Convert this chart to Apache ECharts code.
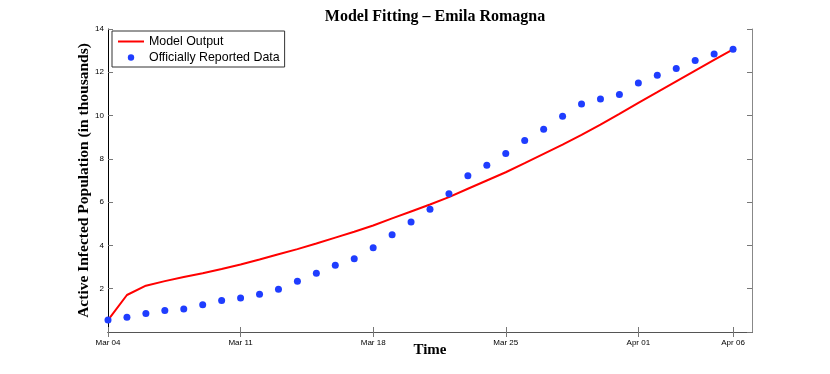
<!DOCTYPE html>
<html>
<head>
<meta charset="utf-8">
<script src="https://cdn.jsdelivr.net/npm/echarts@6/dist/echarts.min.js"></script>
<style>html,body{margin:0;padding:0;background:#fff}#c{width:830px;height:374px}</style>
</head>
<body>
<div id="c"></div>
<script>
const categories = ["Mar 04","Mar 05","Mar 06","Mar 07","Mar 08","Mar 09","Mar 10","Mar 11","Mar 12","Mar 13","Mar 14","Mar 15","Mar 16","Mar 17","Mar 18","Mar 19","Mar 20","Mar 21","Mar 22","Mar 23","Mar 24","Mar 25","Mar 26","Mar 27","Mar 28","Mar 29","Mar 30","Mar 31","Apr 01","Apr 02","Apr 03","Apr 04","Apr 05","Apr 06","Apr 07"];
const tickLabels = ["Mar 04","Mar 11","Mar 18","Mar 25","Apr 01","Apr 06"];
const reportedData = [0.55,0.68,0.85,0.99,1.06,1.26,1.46,1.57,1.74,1.98,2.34,2.71,3.08,3.39,3.89,4.49,5.08,5.67,6.39,7.22,7.71,8.25,8.85,9.37,9.97,10.54,10.77,10.97,11.51,11.86,12.18,12.54,12.85,13.06];
const modelOutput = [0.55,1.71,2.14,2.35,2.54,2.71,2.91,3.12,3.35,3.59,3.83,4.09,4.36,4.63,4.92,5.25,5.57,5.89,6.23,6.62,7.00,7.38,7.80,8.23,8.66,9.11,9.58,10.08,10.59,11.08,11.58,12.08,12.57,13.06];
const yTicks = [2,4,6,8,10,12,14];

const showTick = function (idx, val) { return tickLabels.indexOf(categories[idx]) >= 0; };
const sans = 'Liberation Sans';
const serif = 'Liberation Serif';

const chart = echarts.init(document.getElementById('c'));
chart.setOption({
  animation: false,
  backgroundColor: '#fff',
  title: {
    text: 'Model Fitting \u2013 Emila Romagna',
    left: 430, top: 4, textAlign: 'center',
    textStyle: { fontFamily: serif, fontWeight: 'bold', fontSize: 16, color: '#000' }
  },
  legend: {
    orient: 'vertical', left: 112, top: 31,
    backgroundColor: '#fff', borderColor: '#333', borderWidth: 1,
    padding: [3, 5, 2, 5], itemGap: 1, itemWidth: 26, itemHeight: 8,
    textStyle: { fontFamily: sans, fontSize: 12.4, lineHeight: 15, color: '#000' },
    data: [
      { name: 'Model Output', itemStyle: { opacity: 0 } },
      { name: 'Officially Reported Data' }
    ]
  },
  grid: { left: 108, right: 78, top: 29, bottom: 42, containLabel: false },
  xAxis: [{
    type: 'category', data: categories, boundaryGap: false, position: 'bottom',
    name: 'Time', nameLocation: 'middle', nameGap: 11, nameMoveOverlap: false,
    nameTextStyle: { fontFamily: serif, fontWeight: 'bold', fontSize: 15, color: '#000' },
    axisLine: { lineStyle: { color: '#000', width: 1 } },
    axisTick: { inside: true, length: 5, interval: showTick, lineStyle: { color: '#777' } },
    axisLabel: { interval: showTick, fontFamily: sans, fontSize: 8, color: '#000', margin: 7 },
    splitLine: { show: false }
  }, {
    type: 'category', data: categories, boundaryGap: false, position: 'top',
    axisLine: { lineStyle: { color: '#555', width: 1 } },
    axisTick: { inside: true, length: 5, interval: showTick, lineStyle: { color: '#777' } },
    axisLabel: { show: false }, splitLine: { show: false }
  }],
  yAxis: [{
    type: 'value', min: 0, max: 14, interval: 2, position: 'left',
    name: 'Active Infected Population (in thousands)', nameLocation: 'middle', nameGap: 16,
    nameMoveOverlap: false,
    nameTextStyle: { fontFamily: serif, fontWeight: 'bold', fontSize: 15.5, color: '#000' },
    axisLine: { show: true, lineStyle: { color: '#000', width: 1 } },
    axisTick: { show: true, inside: true, length: 5, lineStyle: { color: '#777' } },
    axisLabel: { showMinLabel: false, fontFamily: sans, fontSize: 8, color: '#000', margin: 4,
      formatter: function (v) { return yTicks.indexOf(v) >= 0 ? String(v) : ''; } },
    splitLine: { show: false }
  }, {
    type: 'value', min: 0, max: 14, interval: 2, position: 'right',
    axisLine: { show: true, lineStyle: { color: '#888', width: 1 } },
    axisTick: { show: true, inside: true, length: 5, lineStyle: { color: '#777' } },
    axisLabel: { show: false }, splitLine: { show: false }
  }],
  series: [{
    name: 'Model Output', type: 'line', data: modelOutput,
    xAxisIndex: 0, yAxisIndex: 0,
    symbol: 'none', smooth: false,
    lineStyle: { color: '#ff0000', width: 2 }, itemStyle: { color: '#ff0000' }
  }, {
    name: 'Officially Reported Data', type: 'line', data: reportedData,
    xAxisIndex: 0, yAxisIndex: 0,
    symbol: 'circle', symbolSize: 7, showSymbol: true,
    lineStyle: { width: 0, opacity: 0 },
    itemStyle: { color: '#1f3dff' }, z: 3
  }]
});
</script>
</body>
</html>
